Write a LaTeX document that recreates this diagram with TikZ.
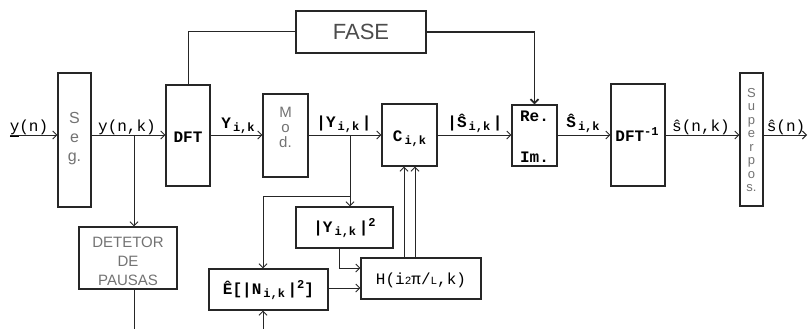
\documentclass[tikz,border=0pt]{standalone}
\usepackage{fontspec}
\setmainfont{Liberation Mono}
\newfontfamily\plotfont{Liberation Sans}
\usetikzlibrary{arrows.meta}
\newcommand{\lsub}[1]{\raisebox{-3pt}{\fontsize{12}{12}\selectfont\,#1}}
\newcommand{\lsup}[1]{\raisebox{6pt}{\fontsize{12}{12}\selectfont #1}}
\begin{document}
\begin{tikzpicture}[x=1pt,y=-1pt,
  blk/.style={draw=black!85, line width=1.1pt, inner sep=0pt, anchor=center},
  arr/.style={draw=black!85, line width=1pt, -{Straight Barb[length=4pt,width=8pt]}},
  thickarr/.style={draw=black!85, line width=1.8pt, -{Straight Barb[length=4pt,width=8pt]}},
  ln/.style={draw=black!85, line width=1pt},
  lbl/.style={font=\fontsize{16}{16}\selectfont\bfseries, inner sep=0pt, anchor=base},
  lbr/.style={font=\fontsize{16}{16}\selectfont, inner sep=0pt, anchor=base},
  gr/.style={text=black!55, font=\plotfont\fontsize{16}{19}\selectfont, align=center, inner sep=0pt}
]
\useasboundingbox[fill=white] (0,0) rectangle (808,329);

% blocks
\node[blk, minimum width=33pt, minimum height=134pt] (seg) at (74.5,140) {};
\node[blk, minimum width=44pt, minimum height=101pt] (dft) at (188,135.5) {};
\node[blk, minimum width=130pt, minimum height=42pt] (fase) at (361,32) {};
\node[blk, minimum width=45pt, minimum height=83pt] (mod) at (285.5,135.5) {};
\node[blk, minimum width=55pt, minimum height=62pt] (c) at (409.5,135) {};
\node[blk, minimum width=45pt, minimum height=61pt] (reim) at (534.5,135.5) {};
\node[blk, minimum width=54pt, minimum height=102pt] (dfti) at (638,135) {};
\node[blk, minimum width=23pt, minimum height=133pt] (sup) at (751.5,139.5) {};
\node[blk, minimum width=98pt, minimum height=62pt] (det) at (128,258) {};
\node[blk, minimum width=119pt, minimum height=41pt] (e) at (268.5,289.5) {};
\node[blk, minimum width=97pt, minimum height=41pt] (y2) at (344.5,227.5) {};
\node[blk, minimum width=120pt, minimum height=41pt] (h) at (421,278.5) {};

% block texts
\node[gr] (segt) at (74.5,139) {S\\e\\g.};
\node[gr, font=\plotfont\fontsize{15}{15}\selectfont] (modt) at (285.5,127) {M\\o\\d.};
\node[gr, font=\plotfont\fontsize{13}{13.5}\selectfont] (supt) at (751.5,140) {S\\u\\p\\e\\r\\p\\o\\s.};
\node[gr, text=black!70, font=\plotfont\fontsize{22}{22}\selectfont] (faset) at (361,32) {FASE};
\node[gr, font=\plotfont\fontsize{15}{19}\selectfont] (dett) at (128,261) {DETETOR\\DE\\PAUSAS};
\node[lbl, anchor=center] (dftt) at (188,137) {DFT};
\node[lbl, anchor=center] (dftit) at (637,135) {DFT\lsup{-1}};
\node[lbl, anchor=center] (ct) at (409.5,139) {C\lsub{i,k}};
\node[lbl, anchor=center] (ret) at (534.5,116) {Re.};
\node[lbl, anchor=center] (imt) at (534.5,157) {Im.};
\node[lbl, anchor=center] (et) at (268.5,290) {Ê[|N\lsub{i,k}\,|\lsup{2}]};
\node[lbl, anchor=center] (y2t) at (344.5,228) {|Y\lsub{i,k}\,|\lsup{2}};
\node[lbl, anchor=center, font=\fontsize{16}{16}\selectfont] (ht) at (421,280) {H(i{\fontsize{11}{11}\selectfont 2}π/{\fontsize{11}{11}\selectfont L},k)};

% signal labels
\node[lbr] (l1) at (29,131) {\underline{y}(n)};
\node[lbr] (l2) at (127,131) {y(n,k)};
\node[lbl] (l3) at (238,128) {Y\lsub{i,k}};
\node[lbl] (l4) at (344,127) {|Y\lsub{i,k}\,|};
\node[lbl] (l5) at (475,127) {|Ŝ\lsub{i,k}\,|};
\node[lbl] (l6) at (583,127) {Ŝ\lsub{i,k}};
\node[lbr] (l7) at (701,131) {ŝ(n,k)};
\node[lbr] (l8) at (786,131) {ŝ(n)};

% coordinates
\coordinate (yin) at (10,135);
\coordinate (yout) at (807,135);
\coordinate (b1) at (134,135);
\coordinate (b1e) at (134,329);
\coordinate (b2) at (350,135);
\coordinate (b3) at (350,196);
\coordinate (b4) at (263,196);
\coordinate (b5) at (339,268);
\coordinate (b6) at (0,288);
\coordinate (c1) at (404,0);
\coordinate (c2) at (415,0);
\coordinate (b7) at (263,329);

% connectors
\draw[arr] (yin) -- (yin -| seg.west);
\draw[arr] (seg.east |- yin) -- (yin -| dft.west);
\draw[arr] (b1) -- (b1 |- det.north);
\draw[ln] (det.south -| b1) -- (b1e);
\draw[ln] (dft.north) |- (fase.west);
\draw[thickarr] (fase.east) -| (reim.north);
\draw[arr] (dft.east |- yin) -- (yin -| mod.west);
\draw[arr] (mod.east |- yin) -- (yin -| c.west);
\draw[arr] (b2) -- (b2 |- y2.north);
\draw[arr] (b3) -- (b4) -- (b4 |- e.north);
\draw[arr] (y2.south -| b5) -- (b5) -- (b5 -| h.west);
\draw[arr] (e.east |- b6) -- (b6 -| h.west);
\draw[arr] (h.north -| c1) -- (c.south -| c1);
\draw[arr] (h.north -| c2) -- (c.south -| c2);
\draw[arr] (b7) -- (b7 |- e.south);
\draw[arr] (c.east |- yin) -- (yin -| reim.west);
\draw[arr] (reim.east |- yin) -- (yin -| dfti.west);
\draw[arr] (dfti.east |- yin) -- (yin -| sup.west);
\draw[arr] (sup.east |- yin) -- (yout);
\end{tikzpicture}
\end{document}
